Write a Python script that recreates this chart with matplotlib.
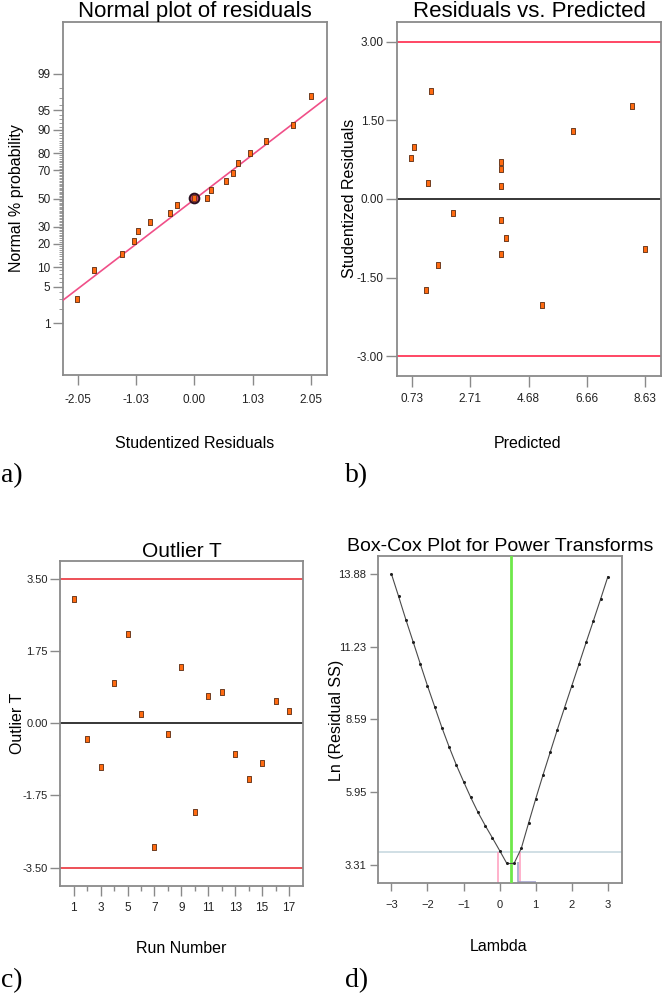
import numpy as np
import matplotlib
matplotlib.use("Agg")
import matplotlib.pyplot as plt
from statistics import NormalDist

plt.rcParams['font.family'] = ['Liberation Sans', 'DejaVu Sans']

# a) normal plot of residuals
a_resid = [-2.06, -1.76, -1.28, -1.07, -0.99, -0.78, -0.43, -0.30, 0.22, 0.29,
           0.56, 0.68, 0.77, 0.97, 1.26, 1.74, 2.04]
a_prob = [3.1, 9.2, 15.2, 21.2, 27.4, 33.0, 39.2, 45.0, 50.5, 56.5,
          62.6, 68.5, 74.3, 80.2, 85.8, 91.6, 97.2]
a_sel_resid = -0.01
a_sel_prob = 50.5
a_fit_x = [-2.31, 2.33]
a_fit_p = [2.9, 97.0]
a_xticks = [-2.05, -1.03, 0.00, 1.03, 2.05]
a_yticks = [1, 5, 10, 20, 30, 50, 70, 80, 90, 95, 99]

# b) residuals vs predicted
b_pred = [1.37, 0.82, 0.71, 1.29, 3.74, 3.74, 3.74, 2.12, 3.74, 3.93,
          3.74, 1.60, 1.21, 5.13, 6.18, 8.19, 8.62]
b_resid = [2.06, 0.99, 0.79, 0.31, 0.71, 0.58, 0.25, -0.27, -0.40, -0.75,
           -1.05, -1.26, -1.73, -2.03, 1.29, 1.77, -0.96]
b_xticks = [0.73, 2.71, 4.68, 6.66, 8.63]
b_yticks = [-3.00, -1.50, 0.00, 1.50, 3.00]
b_limit = 3.00

# c) outlier T
c_run = list(range(1, 18))
c_t = [3.01, -0.38, -1.06, 0.99, 2.18, 0.23, -2.99, -0.27, 1.36, -2.16,
       0.67, 0.76, -0.74, -1.34, -0.96, 0.54, 0.29]
c_yticks = [-3.50, -1.75, 0.00, 1.75, 3.50]
c_limit = 3.50

# d) Box-Cox
d_lambda = [-3.0, -2.8, -2.6, -2.4, -2.2, -2.0, -1.8, -1.6, -1.4, -1.2, -1.0,
            -0.8, -0.6, -0.4, -0.2, 0.0, 0.2, 0.4, 0.6, 0.8, 1.0, 1.2, 1.4,
            1.6, 1.8, 2.0, 2.2, 2.4, 2.6, 2.8, 3.0]
d_ln = [13.88, 13.06, 12.22, 11.42, 10.61, 9.81, 9.05, 8.29, 7.59, 6.93, 6.33,
        5.75, 5.21, 4.73, 4.28, 3.82, 3.35, 3.35, 3.90, 4.81, 5.70, 6.56, 7.39,
        8.22, 9.02, 9.81, 10.60, 11.40, 12.18, 12.97, 13.78]
d_best = 0.31
d_ci_low = -0.04
d_ci_high = 0.57
d_current = 0.50
d_current_ln = 3.42
d_ci_ln = 3.78
d_xticks = [-3, -2, -1, 0, 1, 2, 3]
d_yticks = [3.31, 5.95, 8.59, 11.23, 13.88]

W, H = 663, 997
fig = plt.figure(figsize=(W / 100, H / 100), dpi=100)

def box(l, t, r, b):
    return [l / W, 1 - b / H, (r - l) / W, (b - t) / H]

def ftext(x, y, s, **kw):
    fig.text(x / W, 1 - y / H, s, **kw)

spine_c = '#8a8a8a'
orange = '#ff6a10'
edge = '#5a2a10'
rect = [(-0.6, -1), (0.6, -1), (0.6, 1), (-0.6, 1), (-0.6, -1)]

def style(ax):
    for s in ax.spines.values():
        s.set_color(spine_c)
        s.set_linewidth(1.3)
    ax.tick_params(colors=spine_c, labelcolor='#222222', labelsize=8.5, width=1)

def points(ax, x, y):
    ax.plot(x, y, ls='none', marker=rect, ms=5, mfc=orange, mec=edge, mew=0.6, zorder=5)

nd = NormalDist()
def prob_fwd(p):
    p = np.clip(np.asarray(p, dtype=float) / 100, 1e-7, 1 - 1e-7)
    return np.vectorize(nd.inv_cdf, otypes=[float])(p)
def prob_inv(z):
    return 100 * np.vectorize(nd.cdf, otypes=[float])(np.asarray(z, dtype=float))

# ---- a
ax = fig.add_axes(box(63, 22, 327, 375))
style(ax)
ax.set_yscale('function', functions=(prob_fwd, prob_inv))
ax.set_ylim(0.05, 99.95)
ax.set_xlim(-2.31, 2.33)
ax.plot(a_fit_x, a_fit_p, color='#f04f88', lw=1.2, zorder=3)
ax.plot([a_sel_resid], [a_sel_prob], ls='none', marker='o', ms=7, mfc='#c04070',
        mec='#2a1020', mew=1.4, zorder=4)
points(ax, a_resid, a_prob)
ax.plot([a_sel_resid], [a_sel_prob], ls='none', marker=rect, ms=4, mfc=orange,
        mec=edge, mew=0.5, zorder=6)
ax.set_xticks(a_xticks)
ax.set_xticklabels([f"{v:.2f}" for v in a_xticks])
ax.set_yticks(a_yticks)
ax.set_yticklabels([str(v) for v in a_yticks])
ax.set_yticks(list(range(1, 100)), minor=True)
ax.yaxis.set_minor_formatter(matplotlib.ticker.NullFormatter())
ax.tick_params(axis='x', length=7.5, pad=6)
ax.tick_params(axis='y', length=7, pad=2)
ax.tick_params(axis='y', which='minor', length=3, colors=spine_c)
ax.set_title("Normal plot of residuals", fontsize=16, pad=3)
ftext(195, 443, "Studentized Residuals", fontsize=11.5, ha='center', va='center')
ftext(17, 198, "Normal % probability", fontsize=11.5, ha='center', va='center', rotation=90)
ftext(1, 482, "a)", fontsize=20, family='Liberation Serif', va='baseline')

# ---- b
ax = fig.add_axes(box(397, 22, 661, 376))
style(ax)
ax.set_xlim(0.23, 9.16)
ax.set_ylim(-3.38, 3.38)
ax.axhline(b_limit, color='#ff3858', lw=1.3)
ax.axhline(-b_limit, color='#ff3858', lw=1.3)
ax.axhline(0, color='black', lw=1.1)
points(ax, b_pred, b_resid)
ax.set_xticks(b_xticks)
ax.set_xticklabels([f"{v:.2f}" for v in b_xticks])
ax.set_yticks(b_yticks)
ax.set_yticklabels([f"{v:.2f}" for v in b_yticks])
ax.tick_params(axis='x', length=8, pad=4.5)
ax.tick_params(axis='y', length=8, pad=1.5)
ax.set_title("Residuals vs. Predicted", fontsize=16, pad=3)
ftext(528, 443, "Predicted", fontsize=11.5, ha='center', va='center')
ftext(350, 198, "Studentized Residuals", fontsize=11.5, ha='center', va='center', rotation=90)
ftext(345, 482, "b)", fontsize=20, family='Liberation Serif', va='baseline')

# ---- c
ax = fig.add_axes(box(60.3, 561, 303, 885.7))
style(ax)
ax.set_xlim(0, 18.04)
ax.set_ylim(-3.94, 3.94)
ax.axhline(c_limit, color='#e8202a', lw=1.1)
ax.axhline(-c_limit, color='#e8202a', lw=1.1)
ax.axhline(0, color='black', lw=1.1)
points(ax, c_run, c_t)
ax.set_xticks(c_run[::2])
ax.set_xticks(c_run[1::2], minor=True)
ax.set_yticks(c_yticks)
ax.set_yticklabels([f"{v:.2f}" for v in c_yticks])
ax.tick_params(axis='x', length=7.5, pad=4)
ax.tick_params(axis='x', which='minor', length=3.5, colors=spine_c, width=1)
ax.tick_params(axis='y', length=7, pad=2, labelsize=8)
ax.set_title("Outlier T", fontsize=15, pad=3)
ftext(181, 948, "Run Number", fontsize=11.5, ha='center', va='center')
ftext(17, 723, "Outlier T", fontsize=11.5, ha='center', va='center', rotation=90)
ftext(1, 987, "c)", fontsize=20, family='Liberation Serif', va='baseline')

# ---- d
ax = fig.add_axes(box(377.7, 556.3, 622.3, 883.3))
style(ax)
ax.set_xlim(-3.38, 3.40)
ax.set_ylim(2.63, 14.52)
ymin = ax.get_ylim()[0]
ax.axhline(d_ci_ln, color='#c4d6de', lw=1.1, zorder=1)
ax.vlines([d_ci_low, d_ci_high], ymin, d_ci_ln, color='#ff9dbd', lw=1.1, zorder=2)
ax.vlines([d_current], ymin, d_current_ln, color='#9a9ac8', lw=1.1, zorder=2)
ax.hlines([ymin + 0.03], d_current, 1.0, color='#9a9ac8', lw=1.1, zorder=2)
ax.axvline(d_best, color='#6ee84a', lw=2, zorder=3)
ax.plot(d_lambda, d_ln, color='#4a4a4a', lw=0.8, marker='o', ms=1.2, mfc='#202020',
        mec='#202020', zorder=4)
ax.set_xticks(d_xticks)
ax.set_yticks(d_yticks)
ax.set_yticklabels([f"{v:.2f}" for v in d_yticks])
ax.tick_params(axis='x', length=6, pad=6, labelsize=8)
ax.tick_params(axis='y', length=6, pad=2, labelsize=8)
ax.set_title("Box-Cox Plot for Power Transforms", fontsize=14, pad=4)
ftext(499, 946, "Lambda", fontsize=11.5, ha='center', va='center')
ftext(337, 720, "Ln (Residual SS)", fontsize=11.5, ha='center', va='center', rotation=90)
ftext(345, 987, "d)", fontsize=20, family='Liberation Serif', va='baseline')

fig.savefig("out.png", dpi=100)
